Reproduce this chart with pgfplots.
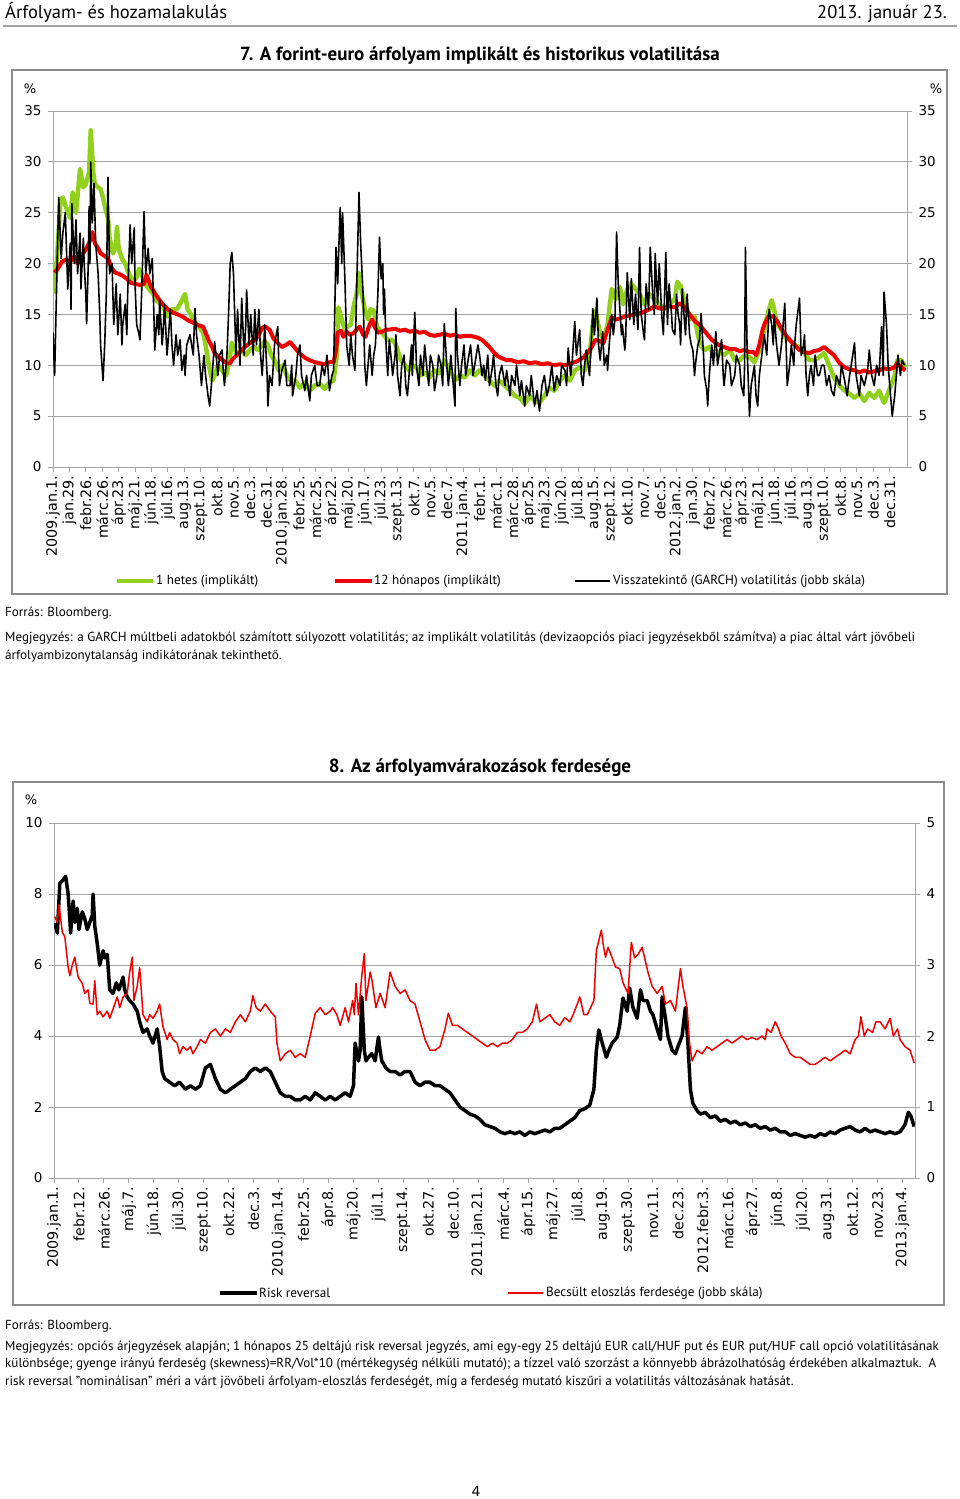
\documentclass[border=0pt]{standalone}
\usepackage{pgfplots}
\pgfplotsset{compat=1.18}
\usepackage{pgfplotstable}
\usepackage{fontspec}
\setmainfont{PT Sans}
\newfontfamily\tickfont{DejaVu Sans}
\definecolor{limeg}{RGB}{146,208,30}
\definecolor{redl}{RGB}{240,0,0}
\definecolor{gridg}{RGB}{165,165,165}
\definecolor{frameg}{RGB}{140,140,140}

% chart 7: x = trading day from 2009.jan.1 (20 days per label)
\pgfplotstableread{
d v
2 17.0
6 22
9 26.2
12 26.5
16 25.5
21 24.5
24 27
28 25
33 29.3
37 27.5
40 27.8
44 29
46 33.1
49 29
51 27.8
55 27.5
58 27.3
61 26.5
65 25
67 24.5
69 22.5
73 21
76 21.5
78 23.6
80 21.5
84 20.5
88 20
91 19.3
96 18.5
101 18.5
105 19.5
108 19
112 18
117 17.5
122 17
127 16.3
132 16
136 15.5
140 14.8
145 15.5
151 15.5
156 16.2
161 17
164 15.5
168 15
173 14.2
178 13.8
183 13.2
186 12
190 10
194 8.5
197 9
201 10
206 9.5
211 9
214 10
218 12.2
222 11.5
225 11
230 11.5
235 11
240 11.5
245 11.8
250 11.5
255 12
258 12.4
262 12
266 11
270 10.5
275 9.5
280 10
285 9
290 8.5
295 8.5
301 7.8
307 8.3
313 7.5
319 8
325 8.2
331 7.7
337 8.3
342 8.5
346 11
348 15.7
352 14.5
356 13.5
359 13.8
363 14
367 16
370 17
373 19.1
376 17.2
380 15.5
384 14.5
387 15.5
391 15.4
395 13.8
398 13.5
403 13
408 12.5
413 12.5
417 12.2
420 11.5
424 10.5
429 10
434 9.5
438 10
443 9.8
448 9
453 9.3
459 8.8
465 9.5
471 9.2
477 10.5
484 9.5
490 8.5
496 9
502 8.8
508 9.5
514 9
520 9.5
526 9
532 8.5
538 8
544 8.5
551 8
557 7.5
563 7
569 6.8
575 6.2
581 7
587 6.5
593 6.3
599 7
605 7.8
611 7.5
618 8.5
624 9
630 8.5
636 9.5
642 9.8
648 9.5
654 11
658 14
661 15.4
666 13.5
671 12.5
676 14
681 17.5
686 16.5
691 17.7
695 16
700 17.5
705 18
710 17.5
715 17
721 16
727 17
733 16.5
739 16
745 15.5
751 16
758 16.5
761 18.2
765 17.8
769 16.5
773 15.5
778 14.5
782 14.8
786 13
789 12
794 11.5
800 11.8
806 11
812 11.3
818 11
825 11.5
831 10.5
837 10.5
843 11
849 10.8
855 10.3
861 11.5
866 13
871 15
876 16.4
879 15.5
883 14
888 13.5
893 12.7
898 12.5
904 12
910 11.8
916 11.2
922 10.5
928 10.5
934 10.8
940 11.2
946 10
952 8.8
959 8
965 7.5
971 7.2
977 6.8
983 7.2
989 6.5
995 7.3
1001 6.8
1007 7.5
1013 6.3
1019 7.5
1026 9
1029 10.5
1034 10.5
1039 9.8
}\weekvol

\pgfplotstableread{
d v
2 19.1
6 19.5
11 20.2
16 20.4
21 20.2
26 20.7
30 20
35 20.8
40 21.4
44 22
48 23.1
51 22
55 21.5
58 21
62 20.8
67 20.5
72 19.5
76 19.1
80 19
85 18.8
90 18.5
95 18.1
100 18
106 17.9
111 18
114 18.9
119 17.8
124 17.1
129 16.5
134 16
140 15.5
146 15.2
152 15
158 14.8
163 14.5
168 14.3
173 14.1
178 13.9
183 13.8
186 13.2
190 12.4
194 11.8
197 11.2
202 10.8
207 10.5
212 10.2
216 10.2
219 10.6
224 11
229 11.4
234 11.8
240 12.2
246 12.5
251 13
255 13.7
259 13.8
264 13.5
269 12.6
274 12.2
279 11.8
284 12
289 12.3
294 11.8
298 11.4
303 11
308 10.7
313 10.5
319 10.3
325 10.2
331 10.1
337 10.3
342 10.3
345 11.5
347 13.2
351 13.4
354 12.8
358 13.3
362 13
367 13.2
370 13.5
374 13.8
378 13
381 12.8
385 13.8
389 14.5
392 13.8
396 13.2
401 13.3
406 13.5
410 13.5
417 13.6
423 13.4
429 13.5
435 13.3
441 13.4
447 13.2
453 13.3
459 13
465 12.9
471 13
477 13.1
484 12.9
490 13
496 12.8
502 12.9
508 12.9
514 12.8
518 12.7
523 12.5
527 12.2
532 11.8
537 11.3
542 10.9
547 10.7
553 10.5
559 10.5
566 10.3
574 10.4
581 10.2
588 10.3
596 10.1
603 10.2
610 10
618 10.1
625 10
632 10.2
639 10.4
647 10.8
652 11.3
656 11.7
661 12.5
666 12.4
671 12.2
676 13.5
681 14.7
686 14.5
691 14.6
697 14.8
703 14.9
709 15
715 15.1
721 15.3
727 15.5
733 15.8
739 15.6
745 15.6
751 15.8
758 15.7
764 16.1
769 15.8
773 15.3
778 14.8
783 14.3
788 14
793 13.5
798 13
803 12.5
808 12.2
812 12
818 11.8
825 11.6
831 11.6
837 11.4
843 11.5
849 11.3
854 11.3
857 11
861 12
865 13.5
868 14.2
873 14.9
878 14.8
883 14.3
888 13.6
893 13
898 12.5
904 12
910 11.5
916 11.3
922 11.2
928 11.4
934 11.5
940 11.8
946 11.4
952 11
959 10.2
965 9.8
971 9.6
977 9.5
983 9.3
989 9.5
995 9.3
1001 9.4
1007 9.5
1013 9.7
1019 9.6
1026 9.8
1029 10.2
1034 9.8
1039 9.5
}\yearvol

\pgfplotstableread{
d v
0 13.2
2 9
5 20
7 26.5
10 20.5
12 23
15 25
17 20
18 17.5
21 22
22 15.5
23 25.9
26 20
28 24.3
30 19
33 23
34 17.5
37 22.5
38 20
40 17
41 14.1
43 20
44 25.6
45 20
46 30
48 24
50 27.9
52 22
55 19
57 15
58 12
61 8.5
63 12
65 17
67 28.5
69 19
72 20
74 14
77 18
79 13
82 17
84 12
85 14
88 16
90 13
91 17
94 23.8
96 20
99 23.5
100 18
102 14
105 13
106 12.5
108 17
111 25.1
113 19
116 21.5
118 19
121 20.5
123 15
124 11.5
127 15
129 13
130 16.5
133 12
134 13
136 16
139 11
140 12
143 15.5
145 12
147 10
150 13
152 11
155 12.5
157 9.5
160 11
161 9
163 12
167 13
171 11
173 15.6
175 13
178 11
179 10
181 8
184 11
186 9
189 7
191 6
194 9
197 12.3
200 10
201 9
203 11
206 11.5
208 9
209 8
212 11
214 15
216 20
218 21.1
220 19
223 11
225 15.5
228 10
230 16.6
233 11
235 14
236 17.4
239 12
241 15
244 11
246 15.5
248 12
251 15.5
253 11
255 9
257 12
258 14
261 9
262 6
264 9
267 8
270 12
274 13.8
276 8
279 9.5
283 10.5
285 8
289 8
291 10
292 7
296 9
298 11
301 12
303 9
307 7.5
309 9
313 6.5
315 9
319 10
322 8
325 8
328 10
331 9
334 11
337 7.5
340 9
342 9.5
345 21.6
347 18
350 25.5
352 20
353 25
356 18
358 12
361 10
363 13
365 11
368 9.5
370 17
373 27
375 22
378 17
380 10
382 8
385 11
386 12
389 9
391 11
393 12
396 17
398 22.6
400 18.5
402 20
403 15
404 17.5
406 12
408 9
410 12.5
413 10
414 9
417 11
418 13
420 9
423 7
425 10
428 11
430 8
432 7
435 10
437 12
438 9
441 15.2
443 10
446 8
448 11
451 9
453 12
456 9.5
458 8
460 11
463 10
465 7.5
468 9
470 11
473 10
475 8
477 14.1
480 10
482 8
485 11
487 9
490 6
491 15.6
493 11
496 8
498 10
501 12
503 9
505 10
509 12
512 9
514 10
518 12
520 11
523 9
525 10
527 8.5
530 11
532 8
535 9.5
537 11
540 8
542 7
544 9
547 10
551 8
553 9.5
557 7
559 9
563 8
565 10
569 7
571 8.5
575 6
577 8
581 7
583 9
587 6
590 7.5
593 5.5
596 8
599 9
602 7
605 8
608 10
611 7.5
614 9
618 8
620 10
624 9.5
626 8
628 11.7
631 9
633 10.5
636 14.3
638 11
642 13.5
644 9
646 8
648 10
650 11.5
654 9
656 12
658 15.6
660 13
663 16.6
665 12
667 10.5
670 13.3
672 10
675 11
676 9.5
678 12
681 15
683 13
685 14.5
687 23.1
689 18
691 15.5
693 13
694 14
697 11.5
698 12.5
700 19.1
703 14.5
705 18.5
708 14
710 17
713 13.5
715 21.6
717 15
720 13
721 12.5
723 18
726 15.5
728 21.6
731 17
733 15
734 21
737 16
739 20
742 15
744 13
747 21.1
749 14
751 18
754 15
755 13.5
758 13
760 17
762 15
764 14
765 12
767 17.5
770 14
771 13
773 17
776 13
778 12
780 11.5
782 9
783 10
786 12
788 12.5
790 15.1
793 11
794 9
797 7.5
798 6
800 9
803 12
805 10
808 13.3
810 10
812 11
815 12.5
817 9
818 8
821 10.5
825 10
827 8
831 9
833 11
837 10
839 8
842 7
843 10
844 21.6
846 12
849 5
851 8
855 10
857 7
859 6
861 9
864 11
867 13
870 11
873 15.5
876 14
878 12
879 15
882 12
885 10
888 12
890 14
892 16.1
894 11
895 8
898 10
900 12
903 10
904 12
906 14
910 16.6
912 11
915 12
916 13
918 9
920 7
922 9
924 10
927 8
929 11
932 9
934 9
937 10
940 10
943 8
946 9
949 7.5
952 7
955 9
959 8
961 10
965 8.5
968 7
971 9
973 10
977 12.2
979 9
983 7
985 9
989 8
993 9.5
995 11.5
998 9
1001 8
1004 10
1007 9
1010 13.8
1012 9
1013 17.2
1016 14
1018 10
1021 7
1023 5
1026 7
1028 9
1030 11
1033 9
1035 10.5
1038 10
}\garch

% chart 8: x = trading day from 2009.jan.1 (30 days per label)
\pgfplotstableread{
d v
1 7.18
4 6.9
7 8.3
11 8.4
14 8.5
17 8.0
19 7.3
20 6.9
23 7.8
25 7.2
28 7.6
30 7.0
34 7.5
37 7.3
40 7.0
43 7.2
46 7.4
47 8.0
49 7.1
52 6.6
55 6.0
59 6.4
61 6.2
64 6.3
67 5.3
71 5.2
75 5.5
78 5.3
81 5.5
83 5.66
85 5.3
88 5.1
91 5.0
95 4.9
100 4.7
103 4.4
107 4.1
112 4.2
115 4.0
119 3.8
124 4.2
127 3.7
130 3.0
133 2.8
139 2.7
145 2.6
151 2.7
158 2.5
164 2.6
170 2.5
176 2.6
182 3.1
188 3.2
194 2.8
200 2.5
206 2.4
212 2.5
218 2.6
224 2.7
230 2.8
236 3.0
242 3.1
248 3.0
254 3.1
260 3.0
266 2.7
272 2.4
278 2.3
284 2.3
290 2.2
296 2.2
302 2.3
308 2.2
314 2.4
320 2.3
326 2.2
332 2.3
338 2.2
344 2.3
350 2.4
356 2.3
360 2.6
362 3.8
366 3.3
368 3.6
370 5.1
373 3.6
375 3.3
378 3.4
382 3.5
386 3.3
390 3.97
392 3.6
394 3.3
399 3.1
404 3.0
410 3.0
416 2.9
422 3.0
428 3.0
434 2.7
440 2.6
446 2.7
452 2.7
458 2.6
464 2.6
470 2.5
476 2.4
482 2.2
488 2.0
494 1.9
500 1.8
506 1.75
512 1.65
518 1.5
524 1.45
530 1.4
536 1.3
542 1.25
548 1.3
554 1.25
560 1.3
566 1.2
572 1.3
578 1.25
584 1.3
590 1.35
596 1.3
602 1.4
608 1.4
614 1.5
620 1.6
626 1.7
632 1.9
638 1.95
644 2.05
649 2.5
652 3.6
655 4.17
659 3.8
664 3.4
667 3.6
671 3.8
677 3.97
680 4.3
684 5.07
689 4.7
692 5.35
696 4.8
701 4.5
705 5.3
708 5.0
713 5.0
717 4.7
720 4.6
725 4.2
729 3.9
731 5.1
735 4.5
738 4.0
743 3.6
747 3.5
750 3.7
755 4.0
759 4.8
762 3.8
765 2.5
768 2.1
773 1.9
777 1.8
783 1.85
789 1.7
795 1.75
801 1.6
807 1.65
813 1.55
819 1.6
825 1.5
831 1.55
837 1.45
843 1.5
849 1.4
855 1.45
861 1.35
867 1.4
873 1.3
879 1.3
885 1.2
891 1.25
897 1.2
903 1.15
909 1.2
915 1.15
921 1.25
927 1.2
933 1.3
939 1.25
945 1.35
951 1.4
957 1.45
963 1.35
969 1.3
975 1.4
981 1.3
987 1.35
993 1.3
999 1.25
1005 1.3
1011 1.25
1017 1.3
1023 1.5
1027 1.85
1030 1.75
1034 1.45
}\riskrev

\pgfplotstableread{
d v
1 3.68
4 3.6
6 3.85
10 3.46
13 3.4
17 2.97
19 2.85
22 3.0
25 3.11
29 2.83
34 2.74
37 2.6
41 2.65
43 2.46
47 2.45
49 2.78
52 2.3
55 2.35
59 2.27
64 2.35
67 2.25
71 2.38
76 2.55
79 2.4
83 2.55
88 2.6
91 2.9
94 3.11
96 2.5
100 2.7
103 2.96
107 2.3
112 2.2
115 2.3
119 2.25
124 2.35
127 2.45
131 2.13
136 1.95
139 2.05
143 1.95
148 1.9
151 1.75
155 1.85
160 1.8
164 1.85
167 1.75
172 1.85
176 1.95
182 1.9
188 2.05
194 2.1
200 2.0
206 2.1
212 2.05
218 2.2
224 2.3
230 2.2
236 2.35
239 2.57
243 2.4
248 2.35
254 2.45
260 2.35
266 2.27
268 1.9
272 1.65
278 1.75
284 1.8
290 1.7
296 1.75
302 1.7
308 2.0
314 2.32
320 2.4
326 2.3
332 2.35
335 2.4
340 2.3
344 2.15
350 2.4
354 2.2
359 2.5
361 2.3
363 2.74
366 2.3
370 2.85
373 3.16
375 2.5
380 2.9
382 2.8
387 2.4
392 2.6
398 2.4
404 2.9
410 2.7
416 2.6
422 2.65
428 2.5
434 2.45
440 2.2
446 1.95
452 1.8
458 1.8
464 1.85
470 2.1
474 2.32
479 2.15
485 2.15
491 2.1
497 2.05
503 2.0
509 1.95
515 1.9
521 1.85
527 1.9
533 1.85
539 1.9
545 1.9
551 1.95
557 2.05
563 2.05
569 2.1
575 2.2
580 2.45
584 2.2
590 2.25
596 2.3
602 2.2
608 2.15
614 2.26
620 2.2
624 2.3
629 2.45
632 2.55
637 2.3
641 2.3
645 2.4
649 2.5
652 3.21
658 3.49
660 3.3
663 3.11
666 3.25
671 3.1
675 2.97
680 2.95
684 2.75
690 2.6
694 3.32
698 3.1
702 3.15
707 3.25
710 3.1
714 2.9
719 2.7
725 2.6
731 2.7
735 2.45
741 2.5
747 2.35
753 2.95
756 2.7
761 2.4
764 1.9
767 1.65
773 1.8
779 1.75
785 1.85
791 1.8
797 1.85
803 1.9
809 1.95
815 1.9
821 1.95
827 2.0
833 1.95
839 1.98
845 1.95
851 2.0
855 1.95
857 2.1
862 2.05
867 2.2
871 2.1
874 2.0
879 1.9
885 1.75
891 1.7
897 1.7
903 1.65
909 1.6
915 1.6
921 1.65
927 1.7
933 1.65
939 1.7
945 1.75
951 1.8
957 1.75
963 1.95
967 2.0
970 2.27
974 2.0
978 2.1
984 2.05
988 2.2
993 2.2
999 2.1
1005 2.25
1009 2.0
1014 2.1
1017 1.95
1023 1.85
1029 1.8
1034 1.62
}\skew

\pgfplotsset{
  base/.style={
    scale only axis,
    axis line style={gridg, line width=1bp},
    tick style={gridg, line width=1bp},
    major tick length=5bp,
    tick align=outside,
    ticklabel style={font=\tickfont\fontsize{13.5bp}{14bp}\selectfont, text=black},
    /pgf/number format/assume math mode=true,
  },
  leftax/.style={base,
    axis x line*=bottom, axis y line*=left,
    ymajorgrids, grid style={gridg, line width=1bp},
    xticklabel style={rotate=90, anchor=east, font=\tickfont\fontsize{14.3bp}{15bp}\selectfont},
    yticklabel style={xshift=-3bp},
  },
  rightax/.style={base,
    axis x line=none, axis y line*=right,
    yticklabel style={xshift=3bp},
  },
}

\begin{document}
\begin{tikzpicture}
\useasboundingbox (0,0) rectangle (960bp,-1499bp);

% page header
\node[anchor=base west, inner sep=0] at (5bp,-18bp) {\fontsize{18.5bp}{22bp}\selectfont Árfolyam- és hozamalakulás};
\node[anchor=base east, inner sep=0] at (947bp,-18bp) {\fontsize{18.5bp}{22bp}\selectfont 2013. január 23.};
\draw[gridg, line width=1.5bp] (3bp,-26bp) -- (957bp,-26bp);

% ---------------- chart 7 ----------------
\node[anchor=base, inner sep=0] at (480bp,-60bp) {\fontsize{19bp}{22bp}\selectfont\bfseries 7. A forint-euro árfolyam implikált és historikus volatilitása};
\draw[frameg, line width=1.2bp] (12bp,-70bp) rectangle (947bp,-594bp);
\node[font=\tickfont\fontsize{13bp}{14bp}\selectfont] at (30bp,-89bp) {\%};
\node[font=\tickfont\fontsize{13bp}{14bp}\selectfont] at (936bp,-89bp) {\%};

\begin{axis}[leftax, at={(53bp,-467bp)}, anchor=south west,
  width=854bp, height=356bp,
  xmin=0, xmax=1041, ymin=0, ymax=35,
  ytick={0,5,...,35},
  xtick={0,20,...,1020},
  xticklabels={2009.jan.1.,jan.29.,febr.26.,márc.26.,ápr.23.,máj.21.,jún.18.,júl.16.,aug.13.,szept.10.,okt.8.,nov.5.,dec.3.,dec.31.,2010.jan.28.,febr.25.,márc.25.,ápr.22.,máj.20.,jún.17.,júl.23.,szept.13.,okt.7.,nov.5.,dec.7.,2011.jan.4.,febr.1.,márc.1.,márc.28.,ápr.25.,máj.23.,jún.20.,júl.18.,aug.15.,szept.12.,okt.10.,nov.7.,dec.5.,2012.jan.2.,jan.30.,febr.27.,márc.26.,ápr.23.,máj.21.,jún.18.,júl.16.,aug.13.,szept.10.,okt.8.,nov.5.,dec.3.,dec.31.},
]
\addplot[limeg, line width=4.5bp, line join=round] table[x=d, y=v] {\weekvol};
\addplot[redl, line width=4bp, line join=round] table[x=d, y=v] {\yearvol};
\end{axis}
\begin{axis}[rightax, at={(53bp,-467bp)}, anchor=south west,
  width=854bp, height=356bp,
  xmin=0, xmax=1041, ymin=0, ymax=35,
  ytick={0,5,...,35},
]
\addplot[black, line width=1.6bp, line join=round] table[x=d, y=v] {\garch};
\end{axis}

% legend 7
\draw[limeg, line width=4.5bp] (117bp,-581bp) -- (153bp,-581bp);
\node[anchor=west, inner sep=0] at (156bp,-581bp) {\fontsize{13.2bp}{14bp}\selectfont 1 hetes (implikált)};
\draw[redl, line width=4bp] (335bp,-581bp) -- (372bp,-581bp);
\node[anchor=west, inner sep=0] at (374bp,-581bp) {\fontsize{13.2bp}{14bp}\selectfont 12 hónapos (implikált)};
\draw[black, line width=2bp] (575bp,-581bp) -- (610bp,-581bp);
\node[anchor=west, inner sep=0] at (613bp,-581bp) {\fontsize{13.2bp}{14bp}\selectfont Visszatekintő (GARCH) volatilitás (jobb skála)};

% notes 7
\begin{scope}[every node/.style={anchor=base west, inner sep=0, font=\fontsize{13.1bp}{14bp}\selectfont}]
\node at (5bp,-616bp) {Forrás: Bloomberg.};
\node at (5bp,-641bp) {Megjegyzés: a GARCH múltbeli adatokból számított súlyozott volatilitás; az implikált volatilitás (devizaopciós piaci jegyzésekből számítva) a piac által várt jövőbeli};
\node at (5bp,-659bp) {árfolyambizonytalanság indikátorának tekinthető.};
\end{scope}

% ---------------- chart 8 ----------------
\node[anchor=base, inner sep=0] at (480bp,-772bp) {\fontsize{19bp}{22bp}\selectfont\bfseries 8. Az árfolyamvárakozások ferdesége};
\draw[frameg, line width=1.2bp] (13bp,-782bp) rectangle (944bp,-1305bp);
\node[font=\tickfont\fontsize{13bp}{14bp}\selectfont] at (31bp,-800bp) {\%};

\begin{axis}[leftax, at={(54bp,-1178bp)}, anchor=south west,
  width=861bp, height=355bp,
  xmin=0, xmax=1035, ymin=0, ymax=10,
  ytick={0,2,...,10},
  xtick={0,30,...,1020},
  xticklabels={2009.jan.1.,febr.12.,márc.26.,máj.7.,jún.18.,júl.30.,szept.10.,okt.22.,dec.3.,2010.jan.14.,febr.25.,ápr.8.,máj.20.,júl.1.,szept.14.,okt.27.,dec.10.,2011.jan.21.,márc.4.,ápr.15.,máj.27.,júl.8.,aug.19.,szept.30.,nov.11.,dec.23.,2012.febr.3.,márc.16.,ápr.27.,jún.8.,júl.20.,aug.31.,okt.12.,nov.23.,2013.jan.4.},
]
\addplot[black, line width=3.5bp, line join=round] table[x=d, y=v] {\riskrev};
\end{axis}
\begin{axis}[rightax, at={(54bp,-1178bp)}, anchor=south west,
  width=861bp, height=355bp,
  xmin=0, xmax=1035, ymin=0, ymax=5,
  ytick={0,1,...,5},
]
\addplot[redl, line width=1.5bp, line join=round] table[x=d, y=v] {\skew};
\end{axis}

% legend 8
\draw[black, line width=3.5bp] (220bp,-1293bp) -- (257bp,-1293bp);
\node[anchor=west, inner sep=0] at (259bp,-1293bp) {\fontsize{13.2bp}{14bp}\selectfont Risk reversal};
\draw[redl, line width=1.5bp] (508bp,-1293bp) -- (543bp,-1293bp);
\node[anchor=west, inner sep=0] at (546bp,-1293bp) {\fontsize{13.2bp}{14bp}\selectfont Becsült eloszlás ferdesége (jobb skála)};

% notes 8
\begin{scope}[every node/.style={anchor=base west, inner sep=0, font=\fontsize{13.1bp}{14bp}\selectfont}]
\node at (5bp,-1329bp) {Forrás: Bloomberg.};
\node at (5bp,-1350bp) {Megjegyzés: opciós árjegyzések alapján; 1 hónapos 25 deltájú risk reversal jegyzés, ami egy-egy 25 deltájú EUR call/HUF put és EUR put/HUF call opció volatilitásának};
\node at (5bp,-1367bp) {különbsége; gyenge irányú ferdeség (skewness)=RR/Vol*10 (mértékegység nélküli mutató); a tízzel való szorzást a könnyebb ábrázolhatóság érdekében alkalmaztuk.\ \ A};
\node at (5bp,-1385bp) {risk reversal "nominálisan" méri a várt jövőbeli árfolyam-eloszlás ferdeségét, míg a ferdeség mutató kiszűri a volatilitás változásának hatását.};
\end{scope}

\node[anchor=base, inner sep=0, font=\tickfont\fontsize{14bp}{16bp}\selectfont] at (476bp,-1496bp) {4};
\end{tikzpicture}
\end{document}
